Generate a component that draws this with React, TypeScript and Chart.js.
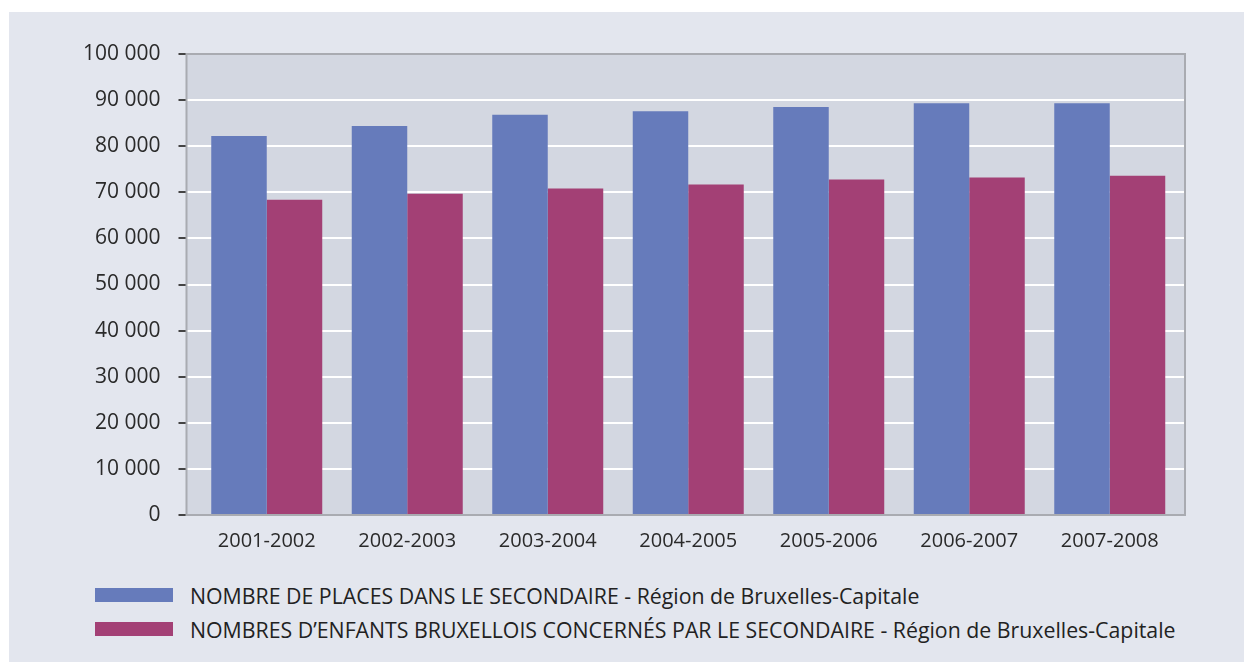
import React, { useEffect, useRef } from "react";
import { Chart, registerables } from "chart.js";

Chart.register(...registerables);

const categories = ["2001-2002", "2002-2003", "2003-2004", "2004-2005", "2005-2006", "2006-2007", "2007-2008"];
const placesValues = [82200, 84400, 86800, 87600, 88500, 89300, 89300];
const enfantsValues = [68400, 69700, 70800, 71700, 72800, 73200, 73600];
const seriesLabels = [
  "NOMBRE DE PLACES DANS LE SECONDAIRE - Région de Bruxelles-Capitale",
  "NOMBRES D\u2019ENFANTS BRUXELLOIS CONCERNÉS PAR LE SECONDAIRE - Région de Bruxelles-Capitale",
];
const seriesColors = ["#667BBB", "#A34075"];
const yMin = 0;
const yMax = 100000;
const yStep = 10000;

const FONT = "'Open Sans', Lato, sans-serif";

// plot frame extends a little beyond the category band (as in the original)
const EXT_LEFT = 10;
const EXT_RIGHT = 5;

const plotFrame = {
  id: "plotFrame",
  beforeDatasetsDraw(chart: any) {
    const { ctx, chartArea, scales } = chart;
    const l = chartArea.left - EXT_LEFT;
    const r = chartArea.right + EXT_RIGHT;
    ctx.save();
    ctx.fillStyle = "#D3D7E1";
    ctx.fillRect(l, chartArea.top, r - l, chartArea.bottom - chartArea.top);
    const y = scales.y;
    ctx.lineWidth = 2;
    y.ticks.forEach((t: any) => {
      const py = Math.round(y.getPixelForValue(t.value));
      if (t.value !== yMin && t.value !== yMax) {
        ctx.strokeStyle = "#FFFFFF";
        ctx.beginPath();
        ctx.moveTo(l, py);
        ctx.lineTo(r, py);
        ctx.stroke();
      }
      ctx.strokeStyle = "#444444";
      ctx.beginPath();
      ctx.moveTo(l - 8, py);
      ctx.lineTo(l, py);
      ctx.stroke();
    });
    ctx.restore();
  },
  afterDraw(chart: any) {
    const { ctx, chartArea } = chart;
    const l = chartArea.left - EXT_LEFT;
    const r = chartArea.right + EXT_RIGHT;
    ctx.save();
    ctx.strokeStyle = "#A9ABB1";
    ctx.lineWidth = 2;
    ctx.strokeRect(l, chartArea.top, r - l, chartArea.bottom - chartArea.top);
    ctx.restore();
  },
};

function fmt(v: number) {
  return String(v).replace(/\B(?=(\d{3})+(?!\d))/g, " ");
}

export default function App() {
  const ref = useRef<HTMLCanvasElement | null>(null);

  useEffect(() => {
    if (!ref.current) return;
    const chart = new Chart(ref.current, {
      type: "bar",
      data: {
        labels: categories,
        datasets: [
          { label: seriesLabels[0], data: placesValues, backgroundColor: seriesColors[0], barPercentage: 1, categoryPercentage: 0.79 },
          { label: seriesLabels[1], data: enfantsValues, backgroundColor: seriesColors[1], barPercentage: 1, categoryPercentage: 0.79 },
        ],
      },
      options: {
        responsive: false,
        animation: false,
        layout: { padding: { left: 64, right: 64, top: 42, bottom: 8 } },
        plugins: {
          legend: { display: false },
          tooltip: { enabled: false },
        },
        scales: {
          x: {
            grid: { display: false, drawTicks: false },
            border: { display: false },
            ticks: { color: "#2A2A2A", font: { family: FONT, size: 20 }, padding: 14 },
          },
          y: {
            min: yMin,
            max: yMax,
            ticks: {
              stepSize: yStep,
              color: "#2A2A2A",
              font: { family: FONT, size: 21 },
              padding: 10,
              callback: (v: any) => fmt(Number(v)),
            },
            grid: {
              display: true,
              drawOnChartArea: false,
              drawTicks: true,
              tickLength: 26,
              color: "rgba(0,0,0,0)",
              tickColor: "rgba(0,0,0,0)",
            },
            border: { display: false },
          },
        },
      },
      plugins: [plotFrame],
    });
    return () => chart.destroy();
  }, []);

  return (
    <div style={{ position: "fixed", left: 0, top: 0, width: 1244, height: 662, background: "#FFFFFF", overflow: "hidden" }}>
      <div style={{ position: "absolute", left: 9, top: 12, width: 1235, height: 650, background: "#E3E6EE" }}>
        <canvas ref={ref} width={1235} height={563} style={{ position: "absolute", left: 0, top: 0, width: 1235, height: 563 }} />
        {seriesLabels.map((lab, i) => (
          <div
            key={i}
            style={{
              position: "absolute",
              left: 86,
              top: 583 + i * 34 - 15,
              height: 30,
              display: "flex",
              alignItems: "center",
              fontFamily: FONT,
              fontSize: 21.3,
              color: "#222222",
              whiteSpace: "nowrap",
            }}
          >
            <span style={{ display: "inline-block", width: 78, height: 14, background: seriesColors[i], marginRight: 17 }} />
            <span>{lab}</span>
          </div>
        ))}
      </div>
    </div>
  );
}
